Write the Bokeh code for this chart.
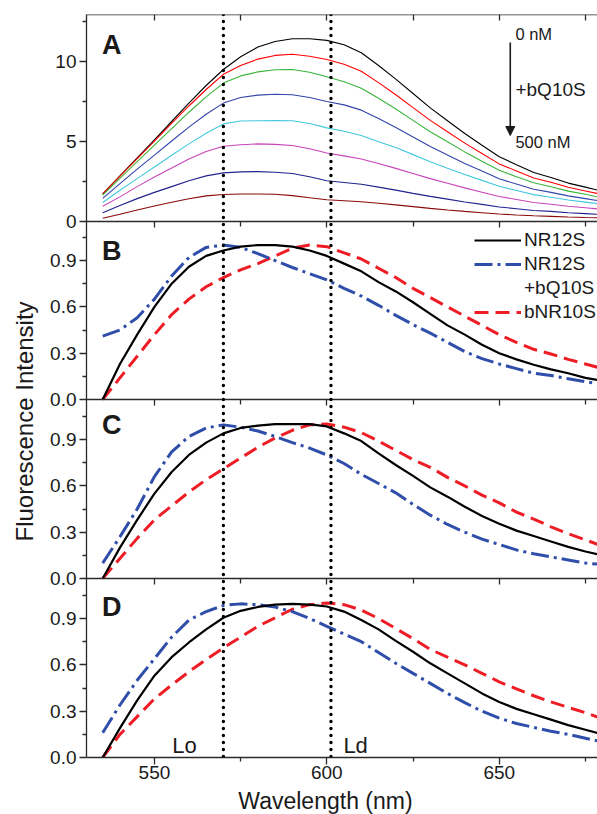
from bokeh.plotting import figure
from bokeh.models import (Range1d, LinearAxis, FixedTicker, Span, Label, Arrow,
                          NormalHead, Legend, LegendItem)
from bokeh.layouts import row, column
from bokeh.embed import file_html
from bokeh.resources import INLINE

# ---------------- data ----------------
wavelength = [535, 540, 545, 550, 555, 560, 565, 570, 575, 580, 585, 590, 595, 600, 605,
              610, 615, 620, 625, 630, 635, 640, 645, 650, 655, 660, 665, 670, 675, 680]

# Panel A: titration of NR12S with bQ10S (0 nM ... 500 nM)
a_c0 = [1.73, 2.85, 3.97, 5.10, 6.25, 7.40, 8.50, 9.50, 10.30, 10.90, 11.25, 11.42, 11.42, 11.32, 11.05,
        10.55, 9.75, 8.90, 8.00, 7.10, 6.30, 5.50, 4.77, 4.05, 3.55, 3.06, 2.75, 2.40, 2.15, 1.88]
a_c1 = [1.73, 2.84, 3.93, 5.02, 6.13, 7.22, 8.25, 9.20, 9.75, 10.15, 10.38, 10.45, 10.33, 10.12, 9.83,
        9.39, 8.68, 7.92, 7.12, 6.32, 5.61, 4.90, 4.25, 3.60, 3.16, 2.72, 2.45, 2.14, 1.91, 1.68]
a_c2 = [1.65, 2.70, 3.74, 4.77, 5.81, 6.83, 7.79, 8.65, 9.10, 9.35, 9.48, 9.50, 9.33, 9.05, 8.73,
        8.33, 7.70, 7.03, 6.32, 5.61, 4.98, 4.35, 3.77, 3.20, 2.80, 2.42, 2.17, 1.90, 1.70, 1.47]
a_c3 = [1.45, 2.37, 3.27, 4.15, 5.03, 5.90, 6.70, 7.40, 7.75, 7.90, 7.95, 7.92, 7.75, 7.50, 7.29,
        6.96, 6.44, 5.87, 5.28, 4.69, 4.16, 3.63, 3.15, 2.67, 2.34, 2.02, 1.82, 1.60, 1.43, 1.26]
a_c4 = [1.19, 1.95, 2.68, 3.41, 4.14, 4.85, 5.52, 6.10, 6.28, 6.30, 6.31, 6.30, 6.12, 5.85, 5.64,
        5.38, 4.99, 4.63, 4.18, 3.73, 3.33, 2.94, 2.57, 2.20, 1.94, 1.68, 1.52, 1.34, 1.21, 1.07]
a_c5 = [0.95, 1.54, 2.18, 2.78, 3.35, 3.90, 4.38, 4.70, 4.80, 4.85, 4.82, 4.75, 4.55, 4.28, 4.10,
        3.91, 3.62, 3.32, 3.00, 2.68, 2.39, 2.10, 1.83, 1.56, 1.38, 1.19, 1.08, 0.95, 0.86, 0.75]
a_c6 = [0.55, 1.00, 1.43, 1.82, 2.18, 2.55, 2.85, 3.04, 3.10, 3.12, 3.08, 3.00, 2.80, 2.55, 2.44,
        2.33, 2.15, 1.96, 1.76, 1.57, 1.40, 1.22, 1.07, 0.91, 0.80, 0.69, 0.63, 0.55, 0.49, 0.43]
a_c7 = [0.20, 0.45, 0.72, 0.97, 1.20, 1.42, 1.60, 1.69, 1.72, 1.72, 1.70, 1.62, 1.48, 1.36, 1.30,
        1.23, 1.14, 1.04, 0.93, 0.82, 0.72, 0.63, 0.55, 0.47, 0.41, 0.36, 0.32, 0.28, 0.25, 0.23]
a_series = [a_c0, a_c1, a_c2, a_c3, a_c4, a_c5, a_c6, a_c7]
a_colors = ["#000000", "#FF0000", "#3CB43C", "#3344AA", "#44C8DD", "#C844BB", "#22228F", "#8B0A0A"]

# Panel B
b_nr12s = [0.00, 0.23, 0.42, 0.60, 0.75, 0.86, 0.93, 0.965, 0.99, 1.00, 1.00, 0.99, 0.965, 0.93, 0.88,
           0.83, 0.76, 0.70, 0.63, 0.555, 0.48, 0.42, 0.355, 0.30, 0.26, 0.225, 0.195, 0.17, 0.14, 0.12]
b_nr12s_q = [0.41, 0.45, 0.53, 0.65, 0.80, 0.92, 0.985, 1.00, 0.985, 0.945, 0.90, 0.855, 0.815, 0.775, 0.72,
             0.67, 0.61, 0.545, 0.485, 0.43, 0.37, 0.31, 0.265, 0.23, 0.20, 0.17, 0.155, 0.135, 0.115, 0.10]
b_bnr10s = [0.00, 0.14, 0.28, 0.42, 0.55, 0.65, 0.73, 0.79, 0.84, 0.88, 0.93, 0.98, 1.00, 0.99, 0.95,
            0.91, 0.85, 0.79, 0.72, 0.66, 0.60, 0.54, 0.48, 0.42, 0.37, 0.325, 0.295, 0.26, 0.23, 0.20]
# Panel C
c_nr12s = [0.00, 0.20, 0.38, 0.55, 0.69, 0.80, 0.88, 0.94, 0.975, 0.99, 1.00, 1.00, 1.00, 0.985, 0.94,
           0.89, 0.81, 0.735, 0.665, 0.59, 0.53, 0.465, 0.405, 0.355, 0.31, 0.275, 0.24, 0.205, 0.175, 0.15]
c_nr12s_q = [0.10, 0.27, 0.45, 0.66, 0.82, 0.92, 0.975, 0.995, 0.98, 0.955, 0.92, 0.88, 0.845, 0.80, 0.745,
             0.675, 0.615, 0.555, 0.48, 0.41, 0.35, 0.30, 0.255, 0.22, 0.185, 0.16, 0.14, 0.12, 0.10, 0.09]
c_bnr10s = [0.00, 0.13, 0.26, 0.38, 0.47, 0.56, 0.64, 0.71, 0.78, 0.85, 0.91, 0.96, 0.995, 1.00, 0.98,
            0.945, 0.89, 0.83, 0.77, 0.72, 0.655, 0.60, 0.54, 0.49, 0.43, 0.385, 0.335, 0.29, 0.25, 0.21]
# Panel D
d_nr12s = [0.00, 0.19, 0.37, 0.53, 0.65, 0.745, 0.83, 0.905, 0.95, 0.975, 0.99, 0.995, 0.99, 0.978, 0.945,
           0.89, 0.83, 0.755, 0.685, 0.61, 0.545, 0.48, 0.415, 0.36, 0.315, 0.28, 0.245, 0.21, 0.18, 0.15]
d_nr12s_q = [0.16, 0.34, 0.50, 0.64, 0.78, 0.89, 0.945, 0.985, 0.995, 0.99, 0.975, 0.945, 0.90, 0.85, 0.80,
             0.75, 0.68, 0.61, 0.545, 0.48, 0.415, 0.355, 0.30, 0.255, 0.22, 0.195, 0.17, 0.15, 0.125, 0.10]
d_bnr10s = [0.00, 0.15, 0.265, 0.38, 0.47, 0.555, 0.635, 0.71, 0.78, 0.85, 0.905, 0.96, 0.99, 1.00, 0.99,
            0.955, 0.90, 0.835, 0.77, 0.70, 0.65, 0.60, 0.545, 0.49, 0.445, 0.40, 0.36, 0.325, 0.29, 0.25]

x_major = [550, 600, 650]
x_minor = [575, 625, 675]
a_ticks = [0, 5, 10]
a_tick_labels = ["0", "5", "10"]
a_minor = [2.5, 7.5, 12.5]
n_ticks = [0, 0.3, 0.6, 0.9]
n_tick_labels = ["0.0", "0.3", "0.6", "0.9"]
n_minor = [0.15, 0.45, 0.75, 1.05]
lo_ld = [570, 601.2]

# ---------------- layout ----------------
FONT = "Liberation Sans"
TXT = "#1a1a1a"
YW = 40                          # width of the strip holding the y title
MW, MH = 557, 787                # main figure
XH = 27                          # strip holding the x title
BL, BT, BB = 46, 14, 30
FRAME_H = MH - BT - BB           # 743 px
X0, X1 = 530.3, 678.5
PX_N = 154.4                     # px per unit, normalized panels
PX_A = 16.0                      # px per unit, panel A
ZERO = {"D": 0, "C": 179, "B": 358, "A": 536}   # px of each panel's zero above frame bottom
SCALE = {"A": PX_A, "B": PX_N, "C": PX_N, "D": PX_N}

xr = Range1d(X0, X1)
p = figure(width=MW, height=MH, x_range=xr, y_range=Range1d(0, FRAME_H / PX_N),
           output_backend="svg", toolbar_location=None,
           x_axis_location=None, y_axis_location=None,
           min_border_left=BL, min_border_right=0, min_border_top=BT, min_border_bottom=BB)
p.outline_line_color = None
p.grid.visible = False

p.extra_y_ranges = {k: Range1d(-ZERO[k] / SCALE[k], (FRAME_H - ZERO[k]) / SCALE[k]) for k in ZERO}

AXC = "#2a2a2a"


def style(ax):
    ax.axis_line_color = AXC
    ax.axis_line_width = 1.3
    ax.major_tick_line_color = AXC
    ax.minor_tick_line_color = AXC
    ax.major_tick_line_width = 1.3
    ax.minor_tick_line_width = 1.3
    ax.major_label_text_font = FONT
    ax.major_label_text_font_size = "19px"
    ax.major_label_text_color = TXT


# one left axis carrying the ticks of all four panels
def to_default(k, v):
    return (ZERO[k] + v * SCALE[k]) / PX_N


major, minor, overrides = [], [], {}
for k in ["A", "B", "C", "D"]:
    tks, lbls, mins = (a_ticks, a_tick_labels, a_minor) if k == "A" else (n_ticks, n_tick_labels, n_minor)
    for t, l in zip(tks, lbls):
        pos = to_default(k, t)
        major.append(pos)
        overrides[pos] = l
    minor += [to_default(k, m) for m in mins]

ly = LinearAxis(ticker=FixedTicker(ticks=major, minor_ticks=minor), major_label_overrides=overrides)
style(ly)
ly.major_tick_in = 0
ly.major_tick_out = 7
ly.minor_tick_in = 0
ly.minor_tick_out = 4
ly.major_label_standoff = 3
p.add_layout(ly, "left")

# bottom axis with labels
bx = LinearAxis(ticker=FixedTicker(ticks=x_major, minor_ticks=x_minor))
style(bx)
bx.major_tick_in = 0
bx.major_tick_out = 7
bx.minor_tick_in = 0
bx.minor_tick_out = 4
bx.major_label_standoff = 1
p.add_layout(bx, "below")

# top axis (inward ticks)
tx = LinearAxis(y_range_name="A", fixed_location=(FRAME_H - ZERO["A"]) / PX_A,
                ticker=FixedTicker(ticks=x_major, minor_ticks=x_minor))
style(tx)
tx.major_tick_in = 6
tx.major_tick_out = 0
tx.minor_tick_in = 6
tx.minor_tick_out = 0
tx.major_label_text_alpha = 0
p.add_layout(tx, "above")

# panel separators (ticks pointing down)
for k in ["A", "B", "C"]:
    sx = LinearAxis(y_range_name=k, fixed_location=0,
                    ticker=FixedTicker(ticks=x_major, minor_ticks=x_minor))
    style(sx)
    sx.major_tick_in = 0
    sx.major_tick_out = 6
    sx.minor_tick_in = 0
    sx.minor_tick_out = 5
    sx.major_label_text_alpha = 0
    p.add_layout(sx, "below")

# vertical dotted lines
for loc in lo_ld:
    p.add_layout(Span(location=loc, dimension="height", line_color="black",
                      line_width=3.4, line_dash="0 7", line_cap="round"))

# panel A curves
for ys, col in zip(a_series, a_colors):
    p.line(wavelength, ys, y_range_name="A", line_color=col, line_width=1.1)

# panels B-D
BLUE = "#2F4EAA"
RED = "#EE1D25"
DASHDOT = "18 5 3 5"
DASH = "14 7"
rends = {}
for k, (s1, s2, s3) in {"B": (b_nr12s, b_nr12s_q, b_bnr10s),
                         "C": (c_nr12s, c_nr12s_q, c_bnr10s),
                         "D": (d_nr12s, d_nr12s_q, d_bnr10s)}.items():
    r3 = p.line(wavelength, s3, y_range_name=k, line_color=RED, line_width=3, line_dash=DASH)
    r2 = p.line(wavelength, s2, y_range_name=k, line_color=BLUE, line_width=3, line_dash=DASHDOT)
    r1 = p.line(wavelength, s1, y_range_name=k, line_color="black", line_width=2.2)
    rends[k] = (r1, r2, r3)

blank = p.line(x=[], y=[], y_range_name="B", line_alpha=0)
r1, r2, r3 = rends["B"]
legend = Legend(items=[LegendItem(label="NR12S", renderers=[r1]),
                       LegendItem(label="NR12S", renderers=[r2]),
                       LegendItem(label="+bQ10S", renderers=[blank]),
                       LegendItem(label="bNR10S", renderers=[r3])],
                location=(388, 434), orientation="vertical",
                border_line_color=None, background_fill_alpha=0,
                padding=0, margin=0, spacing=2, glyph_width=47, glyph_height=20,
                label_height=20, label_standoff=3,
                label_text_font=FONT, label_text_font_size="19px", label_text_color=TXT)
p.add_layout(legend)

# panel letters (y = centre of the capitals)
for k, yv in [("A", 11.06), ("B", 0.965), ("C", 0.994), ("D", 0.976)]:
    p.add_layout(Label(x=534.8, y=yv, y_range_name=k, text=k, text_font=FONT,
                       text_font_size="27px", text_font_style="bold", text_color=TXT,
                       text_baseline="middle"))

# annotations in A
for txt, yv, fs in [("0 nM", 11.72, "16.5px"), ("+bQ10S", 8.28, "19px"), ("500 nM", 4.94, "16.5px")]:
    p.add_layout(Label(x=654.7, y=yv, y_range_name="A", text=txt, text_font=FONT,
                       text_font_size=fs, text_color=TXT, text_baseline="middle"))
p.add_layout(Arrow(x_start=653.2, y_start=11.19, x_end=653.2, y_end=5.375, y_range_name="A",
                   line_color=TXT, line_width=1.6,
                   end=NormalHead(size=9, fill_color=TXT, line_color=TXT)))

# Lo / Ld
for txt, xv in [("Lo", 555.2), ("Ld", 604.8)]:
    p.add_layout(Label(x=xv, y=0.0745, y_range_name="D", text=txt, text_font=FONT,
                       text_font_size="22px", text_color=TXT, text_baseline="middle"))

# ---- strip with the x title ----
xf = figure(width=MW, height=XH, x_range=xr, y_range=Range1d(0, XH),
            output_backend="svg", toolbar_location=None,
            x_axis_location=None, y_axis_location=None,
            min_border_left=BL, min_border_right=0, min_border_top=0, min_border_bottom=0)
xf.outline_line_color = None
xf.grid.visible = False
xf.add_layout(Label(x=599.6, y=13.5, text="Wavelength (nm)", text_font=FONT,
                    text_font_size="23px", text_color=TXT, text_align="center",
                    text_baseline="middle"))

# ---- strip with the y title ----
TOT_H = MH + XH
yf = figure(width=YW, height=TOT_H, x_range=Range1d(0, YW), y_range=Range1d(0, TOT_H),
            output_backend="svg", toolbar_location=None,
            x_axis_location=None, y_axis_location=None, min_border=0)
yf.outline_line_color = None
yf.grid.visible = False
yf.add_layout(Label(x=23.5, y=TOT_H - 541, text="Fluorescence Intensity", angle=90,
                    angle_units="deg", text_font=FONT, text_font_size="24px",
                    text_color=TXT, text_align="left", text_baseline="middle"))

layout = row(yf, column(p, xf))
open("out.html", "w").write(file_html(layout, INLINE))
